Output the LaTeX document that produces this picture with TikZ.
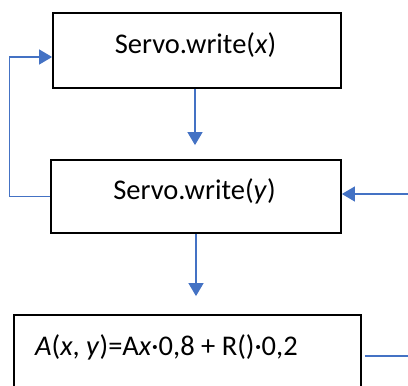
\documentclass[tikz,border=0pt]{standalone}
\usepackage{fontspec}
\setmainfont{Carlito}
\usetikzlibrary{arrows.meta,calc}
\definecolor{conn}{HTML}{4472C4}
\begin{document}
\begin{tikzpicture}[x=1pt,y=-1pt,
  box/.style={draw=black,line width=1.8pt,rectangle,inner sep=0pt},
  lbl/.style={inner sep=0pt,anchor=base,font=\fontsize{28.5}{30}\selectfont},
  conline/.style={draw=conn,line width=1.2pt},
  arr/.style={conline,-{Triangle[length=13pt,width=15pt]}}]
\useasboundingbox (0,0) rectangle (408,386);
\fill[white] (0,0) rectangle (408,386);
\node[box,minimum width=288pt,minimum height=75pt] (b1) at (197,50.5) {};
\node[box,minimum width=290pt,minimum height=73pt] (b2) at (196,196.5) {};
\node[box,minimum width=347pt,minimum height=100pt] (b3) at (187.5,365) {};
\node[lbl] (t1) at (195.5,53.5) {Servo.write(\textit{x})};
\node[lbl] (t2) at (194.5,199.5) {Servo.write(\textit{y})};
\node[lbl,anchor=base west] (t3) at (35,355) {\textit{A}(\textit{x}, \textit{y})=A\textit{x}·0,8 + R()·0,2};
\coordinate (rin) at (408,194);
\coordinate (rout) at (408,356);
\draw[arr,shorten >=14pt] ([xshift=-2pt]b1.south) -- ([xshift=-2pt]b1.south |- b2.north);
\draw[arr,shorten >=18pt] (b2.south) -- (b2.south |- b3.north);
\draw[arr] (b2.west) -- ++(-41,0) |- ([yshift=-6.5pt]b1.west);
\draw[arr] (rin) -- (rin -| b2.east);
\draw[conline] ([xshift=3pt]b3.east |- rout) -- (rout);
\end{tikzpicture}
\end{document}
